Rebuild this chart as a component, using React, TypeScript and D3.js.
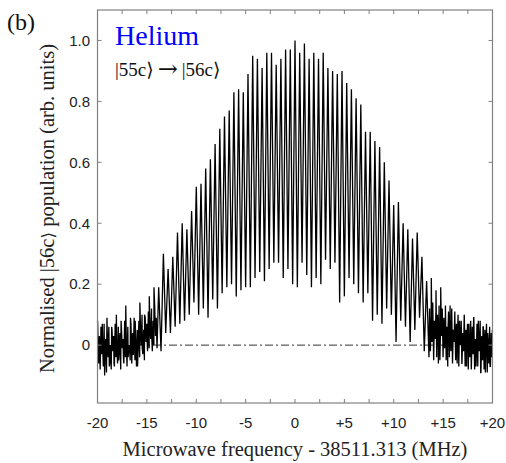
import React from "react";
import * as d3 from "d3";

// Fringe step (half a fringe period) in MHz: samples alternate peak / trough
const halfStep = 0.238;

// Peak values, fringe index k = -42 .. 42 (f = k * 2 * halfStep)
const peakValues = [
  0.08, 0.07, 0.09, 0.06, 0.10, 0.08, 0.13, 0.09, 0.08, 0.14, 0.10, 0.16, 0.19, 0.19,
  0.30, 0.25, 0.29, 0.37, 0.40, 0.38, 0.44, 0.52, 0.53, 0.58, 0.61, 0.66, 0.71, 0.75,
  0.77, 0.83, 0.84, 0.83, 0.89, 0.95, 0.94, 0.91, 0.96, 0.96, 0.92, 0.94, 0.97, 0.97,
  1.00,
  0.96, 0.99, 0.94, 0.96, 0.94, 0.96, 0.91, 0.90, 0.89, 0.90, 0.86, 0.84, 0.81, 0.79,
  0.70, 0.70, 0.67, 0.65, 0.60, 0.54, 0.46, 0.47, 0.40, 0.38, 0.35, 0.37, 0.29, 0.21,
  0.22, 0.18, 0.19, 0.13, 0.13, 0.11, 0.08, 0.10, 0.07, 0.09, 0.08, 0.06, 0.04, 0.05,
];

// Trough values between fringe k and k+1, k = -42 .. 41
const troughValues = [
  -0.05, -0.10, -0.07, -0.06, -0.05, -0.04, -0.04, -0.03, -0.07, -0.01, 0.03, 0.04, 0.07,
  -0.02, 0.04, 0.04, 0.06, 0.07, 0.08, 0.10, 0.14,
  0.10, 0.12, 0.09, 0.15, 0.12, 0.17, 0.19, 0.20, 0.16, 0.18, 0.19, 0.19, 0.22, 0.24,
  0.21, 0.25, 0.27, 0.27, 0.22, 0.25, 0.20,
  0.19, 0.27, 0.23, 0.19, 0.22, 0.20, 0.28, 0.25, 0.27, 0.14, 0.16, 0.22, 0.20, 0.17,
  0.14, 0.17, 0.08, 0.10, 0.07, 0.12, 0.10, 0.01,
  0.08, 0.06, 0.01, 0.05, 0.09, -0.02, -0.04, -0.05, -0.06, -0.04, -0.07, -0.05, -0.06,
  -0.06, -0.07, -0.08, -0.07, -0.09, -0.09, -0.07,
];

// Dense noise samples in the wings
const leftWingStart = -20;
const rightWingStart = 13.6;
const wingStep = 0.08;
const leftWingNoise = [
  0.05, -0.06, 0.03, -0.08, 0.06, -0.03, 0.01, -0.07, 0.07, -0.05, 0.02, -0.09, 0.04,
  -0.04, 0.06, -0.06, 0.0, -0.08, 0.05, -0.02, 0.03, -0.07, 0.07, -0.04, 0.01,
  -0.06, 0.06, -0.03, 0.04, -0.08, 0.05, -0.01, 0.02, -0.06, 0.08, -0.04, 0.03, -0.07,
  0.06, -0.02, 0.0, -0.05, 0.07, -0.06, 0.04, -0.03, 0.09, -0.05, 0.02, -0.07, 0.05,
  -0.02, 0.08, -0.04, 0.06, 0.0, 0.1, -0.03, 0.05, -0.05, 0.09, 0.01, 0.07, -0.02, 0.11,
  -0.01, 0.06, 0.02, 0.12, -0.02, 0.08, 0.0, 0.13, 0.03, 0.09, -0.01,
];
const rightWingNoise = [
  0.12, -0.02, 0.09, 0.01, 0.14, -0.03, 0.08, 0.02, 0.11, -0.04, 0.1, 0.0, 0.13, -0.05,
  0.07, 0.03, 0.12, -0.03, 0.09, -0.01,
  0.1, -0.05, 0.06, 0.02, 0.11, -0.04, 0.08, -0.02, 0.12, -0.06, 0.05, 0.01, 0.09, -0.05,
  0.07, -0.03, 0.1, -0.07, 0.06, 0.0,
  0.08, -0.06, 0.04, -0.02, 0.09, -0.07, 0.05, -0.01, 0.07, -0.08, 0.03, -0.04, 0.08,
  -0.06, 0.06, -0.03, 0.09, -0.08, 0.02, -0.05,
  0.07, -0.07, 0.04, -0.02, 0.08, -0.09, 0.03, -0.05, 0.06, -0.08, 0.05, -0.03, 0.07,
  -0.09, 0.02, -0.06, 0.06, -0.07, 0.04, -0.04,
];

const xTicks = d3.range(-20, 20.01, 2.5);
const xLabelTicks = [-20, -15, -10, -5, 0, 5, 10, 15, 20];
const yLabelTicks = [0, 0.2, 0.4, 0.6, 0.8, 1.0];
const baselineRange = [-16, 16];

function buildSamples() {
  const pts: [number, number][] = [];
  const nPeak = peakValues.length;
  const kMin = -(nPeak - 1) / 2;
  const jMin = 2 * kMin;
  const jMax = -jMin;
  for (let j = jMin; j <= jMax; j++) {
    const f = j * halfStep;
    const v =
      j % 2 === 0 ? peakValues[j / 2 - kMin] : troughValues[(j - 1) / 2 - kMin];
    pts.push([f, v]);
  }
  leftWingNoise.forEach((v, i) => pts.push([leftWingStart + i * wingStep + 0.03, v]));
  rightWingNoise.forEach((v, i) => pts.push([rightWingStart + i * wingStep + 0.03, v]));
  pts.sort((a, b) => a[0] - b[0]);
  return pts.filter((p) => p[0] >= -20 && p[0] <= 20);
}

export default function App() {
  const W = 506;
  const H = 463;
  const x = d3.scaleLinear().domain([-20, 20]).range([97.5, 492.5]);
  const y = d3.scaleLinear().domain([-0.19, 1.1]).range([403, 10]);
  const [x0, x1] = x.range();
  const [yb, yt] = y.range();
  const samples = buildSamples();
  const line = d3
    .line<[number, number]>()
    .x((d) => x(d[0]))
    .y((d) => y(d[1]));
  const axisColor = "#808080";
  const tickLen = 4;
  const serif = "'Liberation Serif', 'Times New Roman', serif";
  const sym = "'DejaVu Serif', serif";
  const sans = "'Liberation Sans', Arial, sans-serif";
  const fmtX = (v: number) => (v > 0 ? `+${v}` : `${v}`);
  const fmtY = (v: number) => (v === 0 ? "0" : v.toFixed(1));

  return (
    <svg
      width={W}
      height={H}
      style={{ position: "absolute", left: 0, top: 0, background: "#fff" }}
    >
      <rect x={0} y={0} width={W} height={H} fill="#fff" />
      <line
        x1={x(baselineRange[0])}
        x2={x(baselineRange[1])}
        y1={y(0)}
        y2={y(0)}
        stroke="#333"
        strokeWidth={1}
        strokeDasharray="8,3,2,3"
      />
      <path d={line(samples) || ""} fill="none" stroke="#000" strokeWidth={1.3} />
      <rect
        x={x0}
        y={yt}
        width={x1 - x0}
        height={yb - yt}
        fill="none"
        stroke={axisColor}
        strokeWidth={1.2}
      />
      {xTicks.map((t) => (
        <g key={`xt${t}`}>
          <line x1={x(t)} x2={x(t)} y1={yb} y2={yb - tickLen} stroke={axisColor} strokeWidth={1} />
          <line x1={x(t)} x2={x(t)} y1={yt} y2={yt + tickLen} stroke={axisColor} strokeWidth={1} />
        </g>
      ))}
      {yLabelTicks.map((t) => (
        <g key={`yt${t}`}>
          <line x1={x0} x2={x0 + tickLen} y1={y(t)} y2={y(t)} stroke={axisColor} strokeWidth={1} />
          <line x1={x1} x2={x1 - tickLen} y1={y(t)} y2={y(t)} stroke={axisColor} strokeWidth={1} />
        </g>
      ))}
      {xLabelTicks.map((t) => (
        <text
          key={`xl${t}`}
          x={x(t)}
          y={428}
          textAnchor="middle"
          fontFamily={sans}
          fontSize={15}
          fill="#222"
        >
          {fmtX(t)}
        </text>
      ))}
      {yLabelTicks.map((t) => (
        <text
          key={`yl${t}`}
          x={90}
          y={y(t)}
          dy="0.35em"
          textAnchor="end"
          fontFamily={sans}
          fontSize={15}
          fill="#222"
        >
          {fmtY(t)}
        </text>
      ))}
      <text
        x={(x0 + x1) / 2}
        y={456}
        textAnchor="middle"
        fontFamily={serif}
        fontSize={20.5}
        fill="#222"
      >
        Microwave frequency - 38511.313 (MHz)
      </text>
      <text
        transform={`translate(54, ${(yt + yb) / 2 + 2}) rotate(-90)`}
        textAnchor="middle"
        fontFamily={serif}
        fontSize={20.5}
        fill="#222"
      >
        Normalised |56c<tspan fontFamily={sym} fontSize={17}>⟩</tspan> population (arb. units)
      </text>
      <text x={7} y={30} fontFamily={serif} fontSize={24} fill="#111">
        (b)
      </text>
      <text x={115} y={45} fontFamily={serif} fontSize={28} fill="#0000ff">
        Helium
      </text>
      <text x={115} y={76} fontFamily={serif} fontSize={19} fill="#111">
        |55c<tspan fontFamily={sym} fontSize={19}>⟩</tspan>
        <tspan fontFamily={sym} fontSize={24} dx={4} dy={1}>→</tspan>
        <tspan dx={4} dy={-1}>|56c</tspan>
        <tspan fontFamily={sym} fontSize={19}>⟩</tspan>
      </text>
    </svg>
  );
}
